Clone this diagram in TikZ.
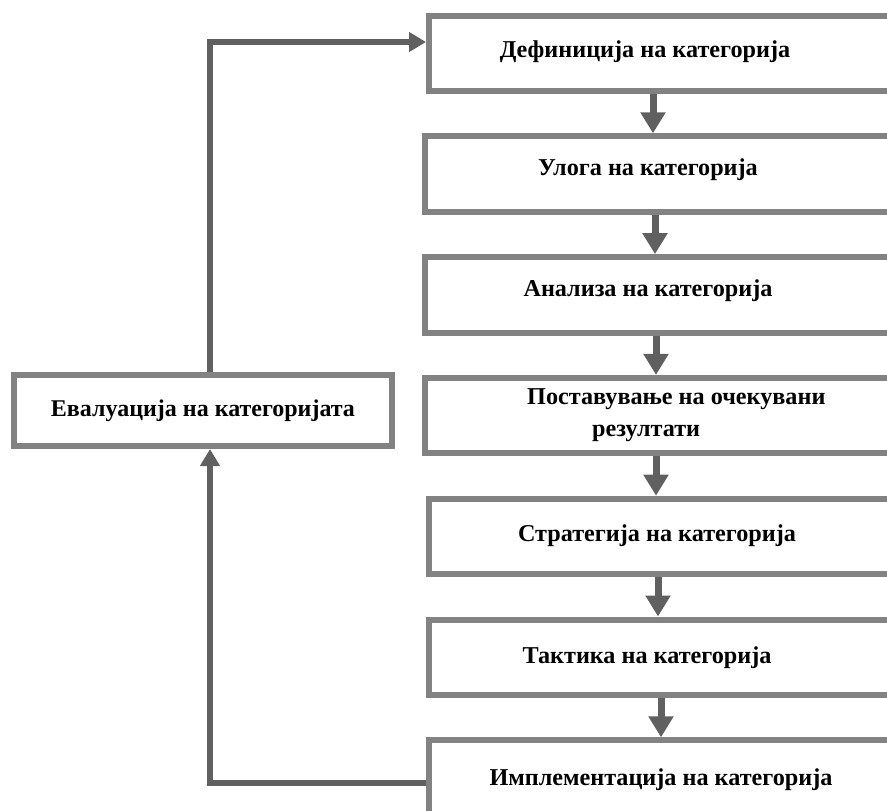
\documentclass[tikz,border=0pt]{standalone}
\usepackage{fontspec}
\setmainfont{Liberation Serif}
\usetikzlibrary{arrows.meta}
\definecolor{boxgray}{RGB}{130,130,130}
\definecolor{arrgray}{RGB}{96,96,96}
\tikzset{
  stagebox/.style={draw=boxgray, line width=6pt, fill=white, rectangle, inner sep=0pt, outer sep=3pt, minimum height=75.5pt, minimum width=560pt, anchor=north west},
  evalbox/.style={draw=boxgray, line width=6pt, fill=white, rectangle, inner sep=0pt, outer sep=3pt, minimum height=71pt, minimum width=378pt, font=\fontsize{24}{28}\selectfont\bfseries},
  label/.style={font=\fontsize{24.2}{36}\selectfont\bfseries, inner sep=0pt, align=left},
  downarrow/.style={draw=arrgray, line width=7pt, -{Triangle[width=24pt,length=21pt]}, arrgray},
  backarrow/.style={draw=arrgray, line width=5.5pt, -{Triangle[width=19pt,length=17pt]}, arrgray}
}
\begin{document}
\begin{tikzpicture}[x=1pt,y=-1pt]
\useasboundingbox (0,0) rectangle (887,811);
\node[stagebox] (b1) at (426,12.5) {};
\node[stagebox] (b2) at (422,133.3) {};
\node[stagebox] (b3) at (422,254.1) {};
\node[stagebox] (b4) at (422,374.9) {};
\node[stagebox] (b5) at (426,495.7) {};
\node[stagebox] (b6) at (426,616.5) {};
\node[stagebox] (b7) at (426,737.3) {};
\node[evalbox] (ev) at (203,410.5) {Евалуација на категоријата};

\node[label] (t1) at (645,52) {Дефиниција на категорија};
\node[label] (t2) at (648,170) {Улога на категорија};
\node[label] (t3) at (648,291) {Анализа на категорија};
\node[label, anchor=north west] (t4) at (527,388) {Поставување на очекувани\\[-4pt]\hspace*{65pt}резултати};
\node[label] (t5) at (657,536) {Стратегија на категорија};
\node[label] (t6) at (647,658) {Тактика на категорија};
\node[label] (t7) at (661,780) {Имплементација на категорија};

\draw[downarrow] (653,0 |- b1.south) -- (653,0 |- b2.north);
\draw[downarrow] (655,0 |- b2.south) -- (655,0 |- b3.north);
\draw[downarrow] (656,0 |- b3.south) -- (656,0 |- b4.north);
\draw[downarrow] (656,0 |- b4.south) -- (656,0 |- b5.north);
\draw[downarrow] (658,0 |- b5.south) -- (658,0 |- b6.north);
\draw[downarrow] (661,0 |- b6.south) -- (661,0 |- b7.north);

\draw[backarrow] (b7.west |- 0,783) -| (210,0 |- ev.south);
\draw[backarrow] (210,0 |- ev.north) |- (b1.west |- 0,42);
\end{tikzpicture}
\end{document}
